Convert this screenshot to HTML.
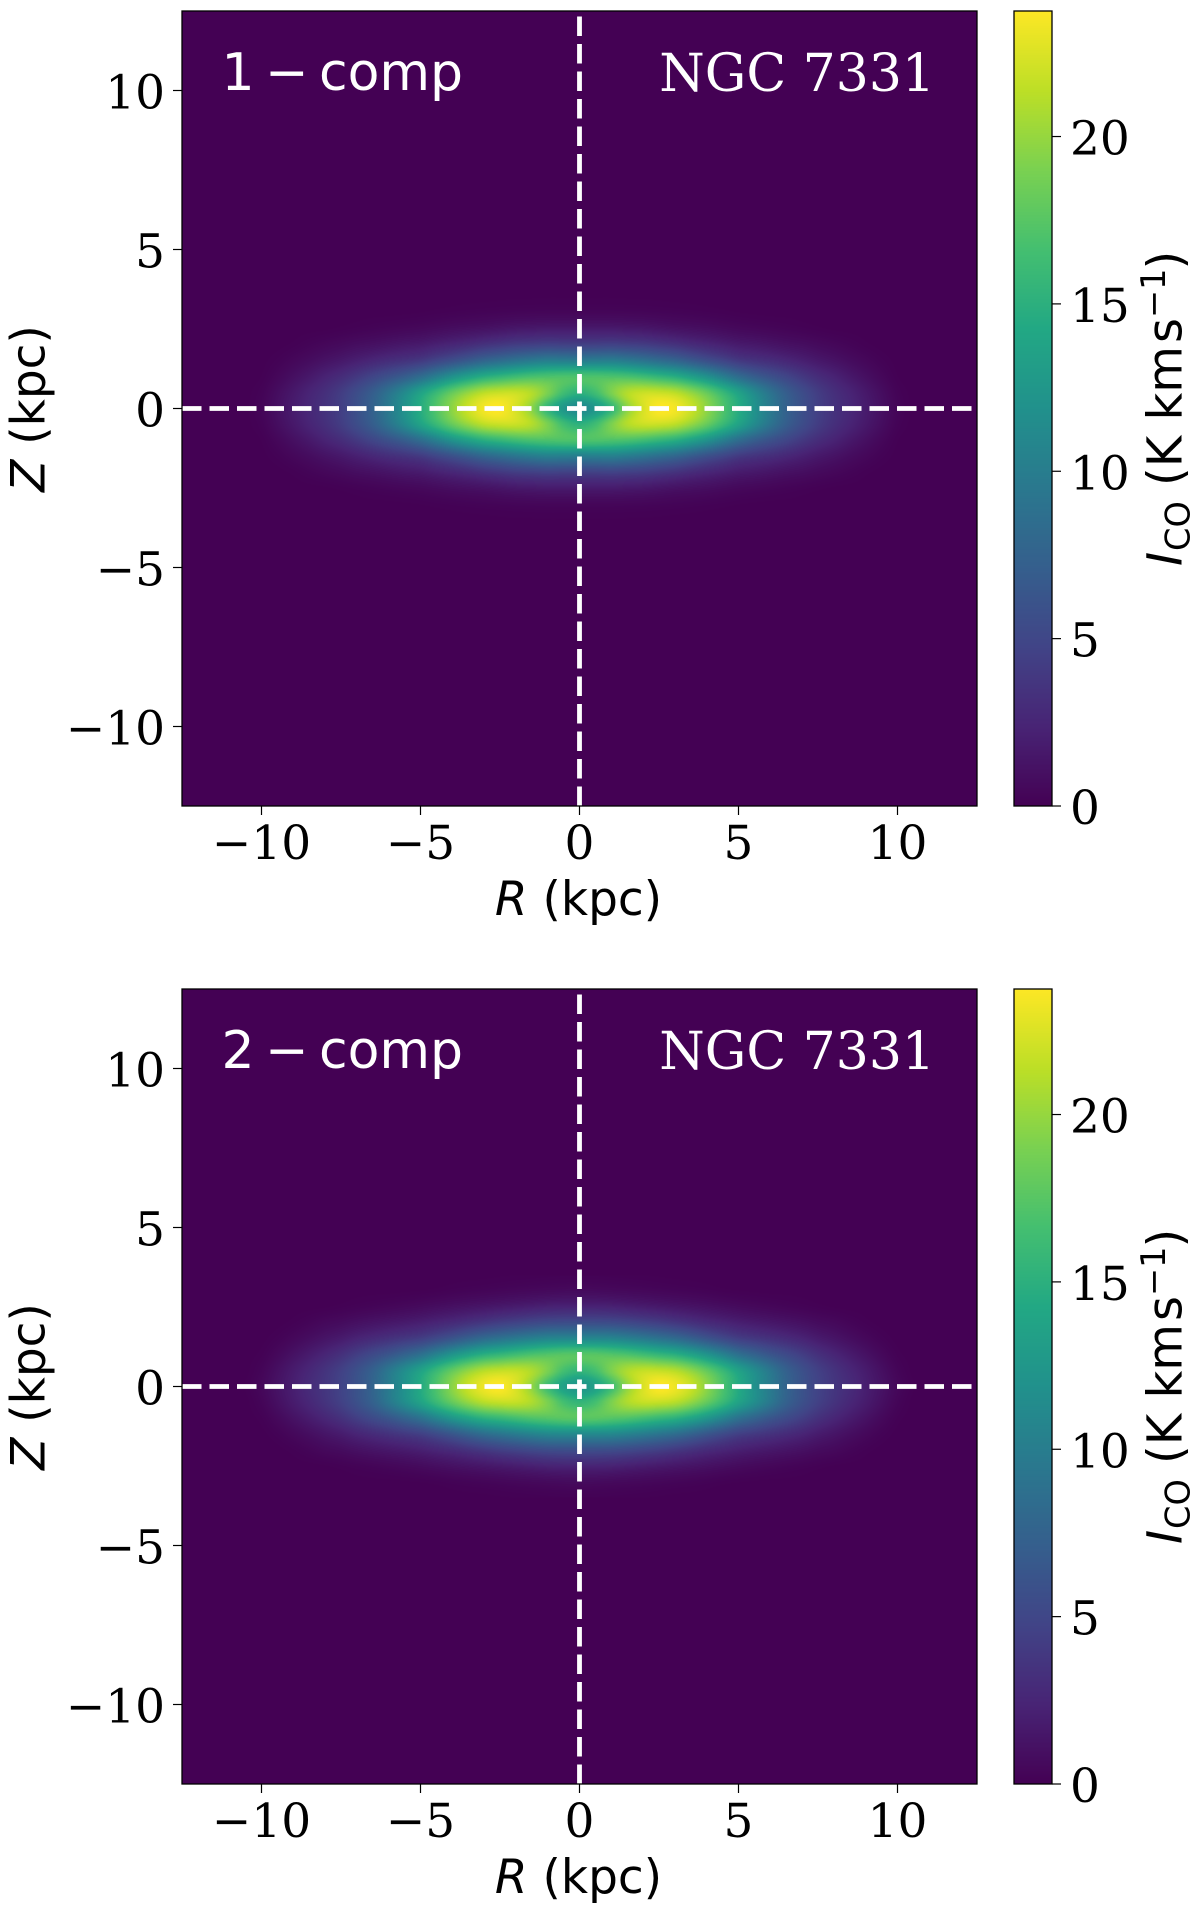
<!DOCTYPE html>
<html lang="en">
<head>
<meta charset="utf-8">
<title>NGC 7331 CO intensity maps</title>
<style>
html,body{margin:0;padding:0;background:#fff;}
#figure{position:relative;width:1200px;height:1917px;overflow:hidden;background:#fff;}
canvas{position:absolute;display:block;}
svg{position:absolute;left:0;top:0;}
.serif{font-family:"DejaVu Serif","Liberation Serif",serif;}
.sans{font-family:"DejaVu Sans","Liberation Sans",sans-serif;}
</style>
</head>
<body>
<div id="figure">
  <canvas id="map1" width="795" height="795" style="left:182px;top:11px"></canvas>
  <canvas id="cbar1" width="38" height="795" style="left:1014px;top:11px"></canvas>
  <canvas id="map2" width="795" height="795" style="left:182px;top:989px"></canvas>
  <canvas id="cbar2" width="38" height="795" style="left:1014px;top:989px"></canvas>
  <svg id="overlay" width="1200" height="1917" viewBox="0 0 1200 1917" xmlns="http://www.w3.org/2000/svg">
    <g id="panel1">
      <text class="sans" x="221.5" y="90" font-size="52" fill="#fff">1<tspan x="265">−</tspan><tspan x="319">comp</tspan></text>
      <text class="serif" x="935" y="91" font-size="52" fill="#fff" text-anchor="end">NGC 7331</text>
      <text class="sans" x="578.5" y="915" font-size="47" fill="#000" text-anchor="middle"><tspan font-style="italic">R</tspan> (kpc)</text>
      <text class="sans" transform="translate(44.5,408.5) rotate(-90)" font-size="47" fill="#000" text-anchor="middle"><tspan font-style="italic">Z</tspan> (kpc)</text>
      <text class="sans" transform="translate(1181.7,565) rotate(-90)" font-size="48" fill="#000"><tspan x="-1" font-style="italic">I</tspan><tspan x="14" dy="8" font-size="33.6">CO</tspan><tspan x="79" dy="-8">(K km</tspan><tspan x="222">s</tspan><tspan x="247" dy="-16.7" font-size="33.6">−1</tspan><tspan x="295.5" dy="16.7">)</tspan></text>
    </g>
    <g id="panel2">
      <text class="sans" x="221.5" y="1068" font-size="52" fill="#fff">2<tspan x="265">−</tspan><tspan x="319">comp</tspan></text>
      <text class="serif" x="935" y="1069" font-size="52" fill="#fff" text-anchor="end">NGC 7331</text>
      <text class="sans" x="578.5" y="1893" font-size="47" fill="#000" text-anchor="middle"><tspan font-style="italic">R</tspan> (kpc)</text>
      <text class="sans" transform="translate(44.5,1386.5) rotate(-90)" font-size="47" fill="#000" text-anchor="middle"><tspan font-style="italic">Z</tspan> (kpc)</text>
      <text class="sans" transform="translate(1181.7,1543) rotate(-90)" font-size="48" fill="#000"><tspan x="-1" font-style="italic">I</tspan><tspan x="14" dy="8" font-size="33.6">CO</tspan><tspan x="79" dy="-8">(K km</tspan><tspan x="222">s</tspan><tspan x="247" dy="-16.7" font-size="33.6">−1</tspan><tspan x="295.5" dy="16.7">)</tspan></text>
    </g>
  </svg>
</div>
<script>
// Axis ticks and limits
const xTicks = [-10, -5, 0, 5, 10];
const yTicks = [-10, -5, 0, 5, 10];
const colorTicks = [0, 5, 10, 15, 20];
const axisLimit = [-12.5, 12.5];
const colorLimit = [0, 23.75];
const referenceR = [0];
const referenceZ = [0];

// Grid of one quadrant: the maps are mirrored in R and Z
const gridR = [0,0.5,1,1.5,2,2.5,3,3.5,4,4.5,5,5.5,6,6.5,7,7.5,8,8.5,9,9.5,10,10.5,11];
const gridZ = [0,0.5,1,1.5,2,2.5,3,3.5];

// CO intensity, one row per gridZ value, one-component model
const intensity1 = [
  [11,12.5,15.5,19.6,22.3,23.7,23.4,21.9,19.7,17.2,14.6,12,9.6,7.4,5.8,4.4,3.4,2.6,1.8,1,0.3,0,0],
  [15.2,16.4,19,21,21.8,21.8,21.3,19.9,18.1,15.9,13.6,11.2,9,7,5.5,4.2,3.2,2.4,1.6,0.85,0.2,0,0],
  [17,17,17,16.8,16.3,15.6,14.8,13.5,12,10.2,8.4,7,5.9,4.9,3.9,3,2.3,1.6,1,0.45,0.05,0,0],
  [10,10.1,10.2,9.8,9.2,8.5,7.8,6.8,5.8,4.9,4,3.5,3.1,2.6,2.1,1.6,1.2,0.8,0.45,0.15,0,0,0],
  [4.6,4.6,4.7,4.5,4.3,3.9,3.5,3,2.6,2.2,1.8,1.6,1.35,1.1,0.9,0.65,0.45,0.25,0.08,0,0,0,0],
  [1.8,1.8,1.8,1.7,1.6,1.4,1.2,1.05,0.9,0.72,0.55,0.45,0.35,0.25,0.16,0.08,0.02,0,0,0,0,0,0],
  [0.4,0.4,0.4,0.38,0.35,0.3,0.25,0.2,0.15,0.1,0.05,0.02,0,0,0,0,0,0,0,0,0,0,0],
  [0.03,0.03,0.03,0.02,0.02,0.01,0,0,0,0,0,0,0,0,0,0,0,0,0,0,0,0,0]
];

// CO intensity, one row per gridZ value, two-component model
const intensity2 = [
  [12.3,13.5,16.2,19.8,22.4,23.7,23.2,21.8,19.6,17,14.4,11.9,9.7,7.6,6,4.7,3.7,2.9,2,1.2,0.45,0.05,0],
  [15.6,16.6,19,20.8,21.6,21.6,21.1,19.8,18,15.9,13.6,11.5,9.4,7.3,5.8,4.5,3.5,2.6,1.8,1,0.3,0,0],
  [17.5,17.5,17.3,17,16.4,15.7,15,13.8,12.3,10.6,8.8,7.5,6.3,5.3,4.3,3.3,2.5,1.8,1.15,0.55,0.1,0,0],
  [11,11,10.9,10.4,9.8,9.1,8.4,7.4,6.3,5.3,4.4,3.9,3.4,2.9,2.4,1.8,1.35,0.9,0.5,0.17,0,0,0],
  [5.6,5.6,5.5,5.2,4.8,4.4,3.9,3.4,2.9,2.5,2.1,1.8,1.55,1.3,1.05,0.75,0.55,0.3,0.1,0,0,0,0],
  [2.4,2.4,2.3,2.1,1.9,1.7,1.5,1.3,1.1,0.9,0.7,0.55,0.42,0.3,0.2,0.1,0.03,0,0,0,0,0,0],
  [0.7,0.68,0.62,0.55,0.48,0.4,0.32,0.25,0.18,0.1,0.05,0.02,0,0,0,0,0,0,0,0,0,0,0],
  [0.1,0.1,0.08,0.06,0.04,0.02,0,0,0,0,0,0,0,0,0,0,0,0,0,0,0,0,0]
];

// Viridis colour map
const viridis = [[68,1,84],[72,36,117],[65,68,135],[53,95,141],[42,120,142],[33,145,140],[34,168,132],[68,191,112],[122,209,81],[189,223,38],[253,231,37]];

const PLOT_LEFT = 182, PLOT_SIZE = 795, BAR_LEFT = 1014, BAR_RIGHT = 1052, TICK_LEN = 9;
const panelTops = [11, 989];
const panelData = [intensity1, intensity2];
const mapIds = ['map1', 'map2'];
const barIds = ['cbar1', 'cbar2'];
const groupIds = ['panel1', 'panel2'];
const NS = 'http://www.w3.org/2000/svg';

function xScale(r) {
  return PLOT_LEFT + (r - axisLimit[0]) / (axisLimit[1] - axisLimit[0]) * PLOT_SIZE;
}
function yScale(z, top) {
  return top + (axisLimit[1] - z) / (axisLimit[1] - axisLimit[0]) * PLOT_SIZE;
}
function cScale(v, top) {
  return top + (colorLimit[1] - v) / (colorLimit[1] - colorLimit[0]) * PLOT_SIZE;
}
function colorOf(v) {
  let t = (v - colorLimit[0]) / (colorLimit[1] - colorLimit[0]);
  t = Math.max(0, Math.min(1, t)) * (viridis.length - 1);
  const i = Math.min(viridis.length - 2, Math.floor(t)), f = t - i;
  const a = viridis[i], b = viridis[i + 1];
  return [a[0] + (b[0] - a[0]) * f, a[1] + (b[1] - a[1]) * f, a[2] + (b[2] - a[2]) * f];
}
function cubic(p0, p1, p2, p3, t) {
  return p1 + 0.5 * t * (p2 - p0 + t * (2 * p0 - 5 * p1 + 4 * p2 - p3 + t * (3 * (p1 - p2) + p3 - p0)));
}
function cellAt(grid, row, col) {
  const r = Math.min(Math.abs(row), grid.length - 1);
  const c = Math.min(Math.abs(col), grid[0].length - 1);
  return grid[r][c];
}
function sample(grid, r, z) {
  const u = Math.abs(r) / (gridR[1] - gridR[0]);
  const v = Math.abs(z) / (gridZ[1] - gridZ[0]);
  if (u >= gridR.length - 1 || v >= gridZ.length - 1) return 0;
  const c = Math.floor(u), w = Math.floor(v), fu = u - c, fv = v - w;
  const rows = [];
  for (let j = -1; j <= 2; j++) {
    rows.push(cubic(cellAt(grid, w + j, c - 1), cellAt(grid, w + j, c), cellAt(grid, w + j, c + 1), cellAt(grid, w + j, c + 2), fu));
  }
  return Math.max(0, cubic(rows[0], rows[1], rows[2], rows[3], fv));
}
function drawMap(id, grid) {
  const ctx = document.getElementById(id).getContext('2d');
  const img = ctx.createImageData(PLOT_SIZE, PLOT_SIZE);
  const span = axisLimit[1] - axisLimit[0];
  for (let py = 0; py < PLOT_SIZE; py++) {
    const z = axisLimit[1] - (py + 0.5) / PLOT_SIZE * span;
    for (let px = 0; px < PLOT_SIZE; px++) {
      const r = axisLimit[0] + (px + 0.5) / PLOT_SIZE * span;
      const col = colorOf(sample(grid, r, z));
      const k = (py * PLOT_SIZE + px) * 4;
      img.data[k] = col[0];
      img.data[k + 1] = col[1];
      img.data[k + 2] = col[2];
      img.data[k + 3] = 255;
    }
  }
  ctx.putImageData(img, 0, 0);
}
function drawBar(id) {
  const cv = document.getElementById(id), ctx = cv.getContext('2d');
  for (let py = 0; py < PLOT_SIZE; py++) {
    const v = colorLimit[1] - (py + 0.5) / PLOT_SIZE * (colorLimit[1] - colorLimit[0]);
    const col = colorOf(v);
    ctx.fillStyle = 'rgb(' + Math.round(col[0]) + ',' + Math.round(col[1]) + ',' + Math.round(col[2]) + ')';
    ctx.fillRect(0, py, cv.width, 1);
  }
}
function svgEl(tag, parent) {
  const el = document.createElementNS(NS, tag);
  parent.appendChild(el);
  return el;
}
function setLine(el, x1, y1, x2, y2, color, width) {
  el.setAttribute('x1', x1);
  el.setAttribute('y1', y1);
  el.setAttribute('x2', x2);
  el.setAttribute('y2', y2);
  el.setAttribute('stroke', color);
  el.setAttribute('stroke-width', width);
}
function setLabel(el, x, y, anchor, value) {
  el.setAttribute('class', 'serif');
  el.setAttribute('x', x);
  el.setAttribute('y', y);
  el.setAttribute('font-size', '47');
  el.setAttribute('fill', '#000');
  el.setAttribute('text-anchor', anchor);
  el.textContent = String(value).replace('-', '\u2212');
}
function setFrame(el, x, y, w, h) {
  el.setAttribute('x', x);
  el.setAttribute('y', y);
  el.setAttribute('width', w);
  el.setAttribute('height', h);
  el.setAttribute('fill', 'none');
  el.setAttribute('stroke', '#000');
  el.setAttribute('stroke-width', '1.3');
}

panelTops.forEach(function (top, p) {
  drawMap(mapIds[p], panelData[p]);
  drawBar(barIds[p]);
  const g = document.getElementById(groupIds[p]);
  const bottom = top + PLOT_SIZE;

  referenceZ.forEach(function (z) {
    const h = svgEl('line', g);
    setLine(h, xScale(axisLimit[0]), yScale(z, top), xScale(axisLimit[1]), yScale(z, top), '#fff', 4.8);
    h.setAttribute('stroke-dasharray', '19.5 8');
    
    
  });
  referenceR.forEach(function (r) {
    const v = svgEl('line', g);
    setLine(v, xScale(r), bottom, xScale(r), top, '#fff', 4.8);
    v.setAttribute('stroke-dasharray', '19.5 8');
    
    
  });

  const frame = svgEl('rect', g);
  setFrame(frame, PLOT_LEFT, top, PLOT_SIZE, PLOT_SIZE);
  
  

  const barFrame = svgEl('rect', g);
  setFrame(barFrame, BAR_LEFT, top, BAR_RIGHT - BAR_LEFT, PLOT_SIZE);
  
  

  xTicks.forEach(function (t) {
    const mark = svgEl('line', g);
    setLine(mark, xScale(t), bottom, xScale(t), bottom + TICK_LEN, '#000', 1.2);
    
    
    const label = svgEl('text', g);
    setLabel(label, xScale(t), bottom + 53, 'middle', t);
    
    
  });
  yTicks.forEach(function (t) {
    const mark = svgEl('line', g);
    setLine(mark, PLOT_LEFT - TICK_LEN, yScale(t, top), PLOT_LEFT, yScale(t, top), '#000', 1.2);
    
    
    const label = svgEl('text', g);
    setLabel(label, 165, yScale(t, top) + 18, 'end', t);
    
    
  });
  colorTicks.forEach(function (t) {
    const mark = svgEl('line', g);
    setLine(mark, BAR_RIGHT, cScale(t, top), BAR_RIGHT + TICK_LEN, cScale(t, top), '#000', 1.2);
    
    
    const label = svgEl('text', g);
    setLabel(label, 1070, cScale(t, top) + 18, 'start', t);
    
    
  });
});
</script>
</body>
</html>
